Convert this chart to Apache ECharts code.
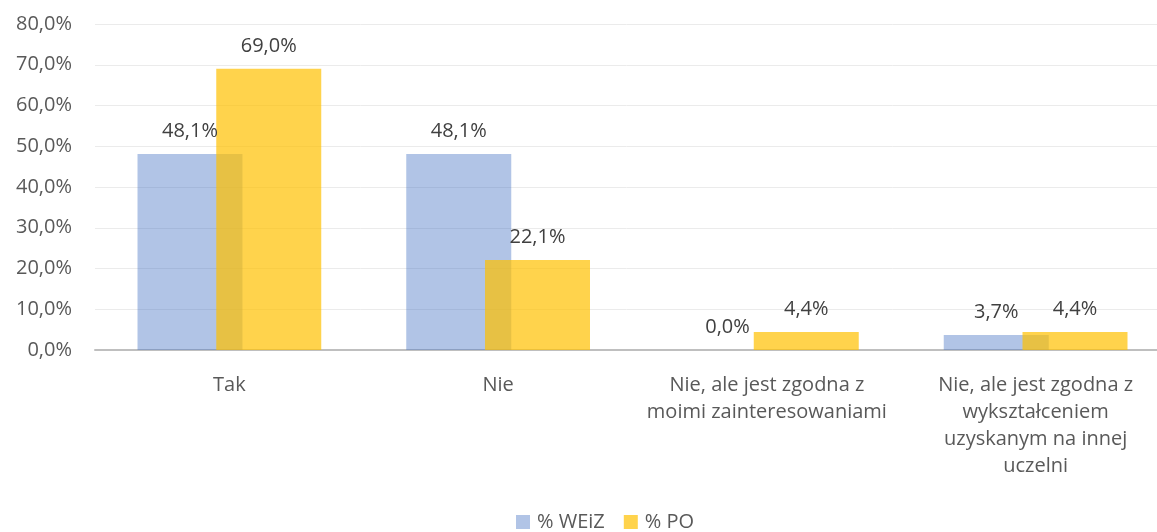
<!DOCTYPE html>
<html>
<head>
<meta charset="utf-8">
<script src="https://cdn.jsdelivr.net/npm/echarts@6/dist/echarts.min.js"></script>
<style>
  html, body { margin: 0; padding: 0; background: #fff; }
  #main { width: 1157px; height: 532px; }
</style>
</head>
<body>
<div id="main"></div>
<script>
// kategorie
var categories = [
	'Tak',
	'Nie',
	'Nie, ale jest zgodna z\nmoimi zainteresowaniami',
	'Nie, ale jest zgodna z\nwykształceniem\nuzyskanym na innej\nuczelni'
];
var weizValues = [48.1, 48.1, 0.0, 3.7];   // % WEiZ
var poValues = [69.0, 22.1, 4.4, 4.4];     // % PO
var seriesNames = ['% WEiZ', '% PO'];

function pct(v) {
	return v.toFixed(1).replace('.', ',') + '%';
}

var myChart = echarts.init(document.getElementById('main'));
var fontFamily = '"Open Sans", "Noto Sans", sans-serif';

var option = {
	animation: false,
	textStyle: { fontFamily: fontFamily },
	// obszar wykresu wychodzi poza prawą krawędź (jak w oryginale)
	grid: { left: 95, right: -13, top: 24, bottom: 182, containLabel: false, outerBoundsMode: 'none' },
	legend: {
		top: 507,
		left: 511,
		itemWidth: 14,
		itemHeight: 14,
		itemGap: 19,
		icon: 'rect',
		textStyle: { color: '#595959', fontSize: 20, fontFamily: fontFamily, padding: [0, 0, 0, 2] },
		data: seriesNames
	},
	xAxis: {
		type: 'category',
		data: categories,
		axisLine: { lineStyle: { color: '#bfbfbf', width: 2 } },
		axisTick: { show: false },
		axisLabel: { color: '#595959', fontSize: 20, lineHeight: 27, margin: 22, interval: 0, fontFamily: fontFamily }
	},
	yAxis: {
		type: 'value',
		min: 0,
		max: 80,
		interval: 10,
		axisLine: { show: false },
		axisTick: { show: false },
		splitLine: { lineStyle: { color: '#ebebeb', width: 1 } },
		axisLabel: {
			color: '#595959', fontSize: 20, margin: 23, fontFamily: fontFamily,
			formatter: function (v) { return pct(v); }
		}
	},
	series: [
		{
			name: seriesNames[0],
			type: 'bar',
			data: weizValues,
			barWidth: 105,
			barGap: '-25%',
			itemStyle: { color: 'rgba(68,114,196,0.42)' },
			label: {
				show: true, position: 'top', distance: 13,
				color: '#404040', fontSize: 20, fontFamily: fontFamily,
				formatter: function (p) { return pct(p.value); }
			}
		},
		{
			name: seriesNames[1],
			type: 'bar',
			data: poValues,
			barWidth: 105,
			barGap: '-25%',
			itemStyle: { color: 'rgba(255,192,0,0.7)' },
			label: {
				show: true, position: 'top', distance: 13,
				color: '#404040', fontSize: 20, fontFamily: fontFamily,
				formatter: function (p) { return pct(p.value); }
			}
		}
	]
};

myChart.setOption(option);
</script>
</body>
</html>
